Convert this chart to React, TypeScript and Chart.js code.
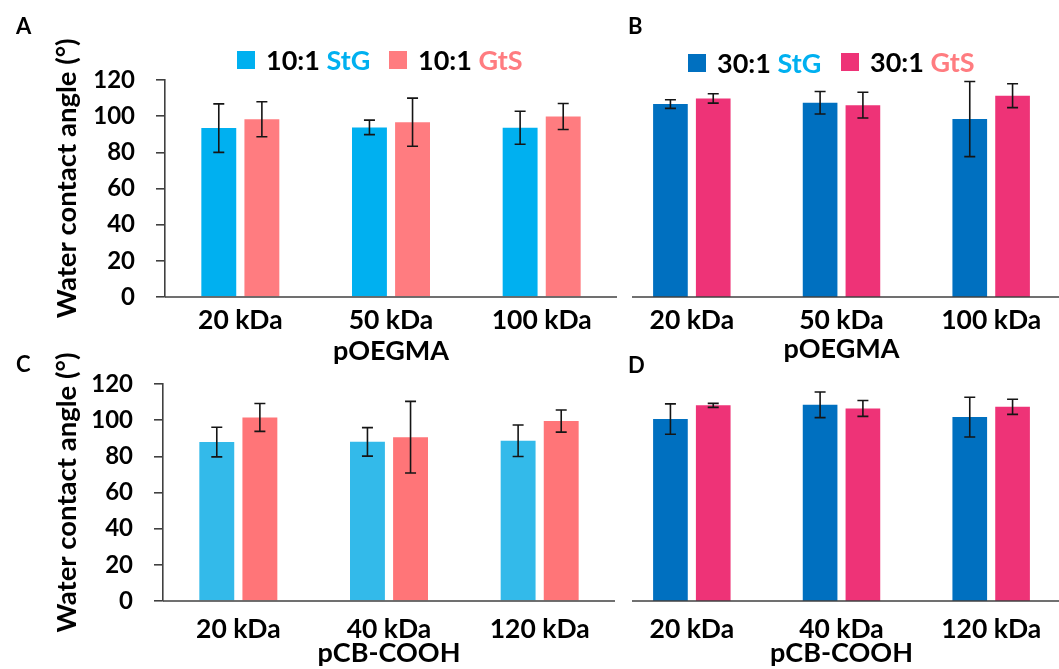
import React, { useEffect, useRef } from 'react';
import { Chart, registerables } from 'chart.js';

Chart.register(...registerables);
Chart.defaults.font.family = 'Lato';

// ---------- data ----------
const TOP_CATEGORIES = ['20 kDa', '50 kDa', '100 kDa'];
const BOTTOM_CATEGORIES = ['20 kDa', '40 kDa', '120 kDa'];
const TOP_TITLE = 'pOEGMA';
const BOTTOM_TITLE = 'pCB-COOH';
const Y_MIN = 0;
const Y_MAX = 120;
const Y_STEP = 20;

const A_STG = [93.4, 93.8, 93.6];
const A_STG_ERR = [13.4, 4.0, 9.1];
const A_GTS = [98.3, 96.7, 99.8];
const A_GTS_ERR = [9.7, 13.3, 7.2];

const B_STG = [106.7, 107.4, 98.4];
const B_STG_ERR = [2.4, 6.2, 20.8];
const B_GTS = [109.8, 106.1, 111.3];
const B_GTS_ERR = [2.6, 7.1, 6.6];

const C_STG = [87.9, 88.0, 88.6];
const C_STG_ERR = [8.2, 7.9, 8.7];
const C_GTS = [101.5, 90.6, 99.5];
const C_GTS_ERR = [7.7, 19.8, 6.1];

const D_STG = [100.6, 108.5, 101.7];
const D_STG_ERR = [8.4, 7.1, 11.0];
const D_GTS = [108.2, 106.5, 107.4];
const D_GTS_ERR = [1.1, 4.4, 4.2];

const LIGHT_BLUE = '#00B0F0';
const SALMON = '#FF7C80';
const C_BLUE = '#33BAEA';
const C_SALMON = '#FF7578';
const DARK_BLUE = '#0070C0';
const PINK = '#EE3377';
const AXIS_COLOR = '#404040';

// ---------- plugins ----------
const errorBarPlugin = {
  id: 'errorBars',
  afterDatasetsDraw(chart: any, _args: any, opts: any) {
    const ctx = chart.ctx;
    const y = chart.scales.y;
    const errs = opts.errors || [];
    chart.data.datasets.forEach((ds: any, di: number) => {
      const meta = chart.getDatasetMeta(di);
      meta.data.forEach((bar: any, i: number) => {
        const v = ds.data[i];
        const e = errs[di] ? errs[di][i] : 0;
        const yt = y.getPixelForValue(v + e);
        const yb = y.getPixelForValue(v - e);
        const x = bar.x;
        const cap = 5.5;
        ctx.save();
        ctx.strokeStyle = '#151515';
        ctx.lineWidth = 1.6;
        ctx.beginPath();
        ctx.moveTo(x, yt);
        ctx.lineTo(x, yb);
        ctx.moveTo(x - cap, yt);
        ctx.lineTo(x + cap, yt);
        ctx.moveTo(x - cap, yb);
        ctx.lineTo(x + cap, yb);
        ctx.stroke();
        ctx.restore();
      });
    });
  },
};

const axisLinePlugin = {
  id: 'axisLine',
  afterDatasetsDraw(chart: any, _args: any, opts: any) {
    const { ctx, chartArea } = chart;
    ctx.save();
    ctx.strokeStyle = AXIS_COLOR;
    ctx.lineWidth = 1.6;
    ctx.beginPath();
    ctx.moveTo(chartArea.left + (opts.inset || 0), chartArea.bottom);
    ctx.lineTo(chartArea.right, chartArea.bottom);
    ctx.stroke();
    ctx.restore();
  },
};

type PanelSpec = {
  left: number;
  top: number;
  width: number;
  height: number;
  padTop: number;
  showY: boolean;
  yWidth: number;
  yTitle: string;
  xHeight: number;
  xTickPad: number;
  xTitlePad: number;
  inset: number;
  categories: string[];
  xTitle: string;
  stg: number[];
  stgErr: number[];
  gts: number[];
  gtsErr: number[];
  stgColor: string;
  gtsColor: string;
  stgLabel: string;
  gtsLabel: string;
};

const PANELS: PanelSpec[] = [
  {
    left: 0, top: 0, width: 617, height: 370, padTop: 80, showY: true, yWidth: 165,
    yTitle: '\u2002 Water contact angle (°)', xHeight: 73, xTickPad: 8, xTitlePad: 3, inset: 0,
    categories: TOP_CATEGORIES, xTitle: TOP_TITLE,
    stg: A_STG, stgErr: A_STG_ERR, gts: A_GTS, gtsErr: A_GTS_ERR,
    stgColor: LIGHT_BLUE, gtsColor: SALMON, stgLabel: '10:1 StG', gtsLabel: '10:1 GtS',
  },
  {
    left: 617, top: 0, width: 449, height: 370, padTop: 80, showY: false, yWidth: 0,
    yTitle: '', xHeight: 73, xTickPad: 8, xTitlePad: 5, inset: 15,
    categories: TOP_CATEGORIES, xTitle: TOP_TITLE,
    stg: B_STG, stgErr: B_STG_ERR, gts: B_GTS, gtsErr: B_GTS_ERR,
    stgColor: DARK_BLUE, gtsColor: PINK, stgLabel: '30:1 StG', gtsLabel: '30:1 GtS',
  },
  {
    left: 0, top: 330, width: 615, height: 339, padTop: 54, showY: true, yWidth: 163,
    yTitle: 'Water contact angle (°)', xHeight: 68, xTickPad: 13, xTitlePad: 0, inset: 0,
    categories: BOTTOM_CATEGORIES, xTitle: BOTTOM_TITLE,
    stg: C_STG, stgErr: C_STG_ERR, gts: C_GTS, gtsErr: C_GTS_ERR,
    stgColor: C_BLUE, gtsColor: C_SALMON, stgLabel: '10:1 StG', gtsLabel: '10:1 GtS',
  },
  {
    left: 617, top: 330, width: 449, height: 339, padTop: 54, showY: false, yWidth: 0,
    yTitle: '', xHeight: 68, xTickPad: 13, xTitlePad: 0, inset: 15,
    categories: BOTTOM_CATEGORIES, xTitle: BOTTOM_TITLE,
    stg: D_STG, stgErr: D_STG_ERR, gts: D_GTS, gtsErr: D_GTS_ERR,
    stgColor: DARK_BLUE, gtsColor: PINK, stgLabel: '30:1 StG', gtsLabel: '30:1 GtS',
  },
];

function BarPanel({ p }: { p: PanelSpec }) {
  const ref = useRef<HTMLCanvasElement>(null);
  useEffect(() => {
    const chart = new Chart(ref.current as HTMLCanvasElement, {
      type: 'bar',
      data: {
        labels: p.categories,
        datasets: [
          { label: p.stgLabel, data: p.stg, backgroundColor: p.stgColor, categoryPercentage: 0.572, barPercentage: 0.81 },
          { label: p.gtsLabel, data: p.gts, backgroundColor: p.gtsColor, categoryPercentage: 0.572, barPercentage: 0.81 },
        ],
      },
      options: {
        animation: false,
        responsive: false,
        maintainAspectRatio: false,
        layout: { padding: { top: p.padTop, left: 0, right: 0, bottom: 0 } },
        plugins: {
          legend: { display: false },
          tooltip: { enabled: false },
          errorBars: { errors: [p.stgErr, p.gtsErr] },
          axisLine: { inset: p.inset },
        } as any,
        scales: {
          x: {
            grid: { display: false, drawTicks: false },
            border: { display: false },
            ticks: {
              color: '#000',
              font: { size: 26.5, weight: 'bold' },
              padding: p.xTickPad,
              maxRotation: 0,
              autoSkip: false,
            },
            title: {
              display: true,
              text: p.xTitle,
              color: '#000',
              font: { size: 27, weight: 'bold' },
              padding: { top: 0, bottom: p.xTitlePad },
            },
            afterFit: (s: any) => { s.height = p.xHeight; },
          },
          y: {
            display: p.showY,
            min: Y_MIN,
            max: Y_MAX,
            ticks: { stepSize: Y_STEP, color: '#000', font: { size: 24, weight: 'bold' }, padding: 21 },
            grid: { drawOnChartArea: false, drawTicks: true, tickLength: 9, color: AXIS_COLOR, lineWidth: 1.6 },
            border: { display: true, color: AXIS_COLOR, width: 1.6 },
            title: {
              display: p.showY,
              text: p.yTitle,
              color: '#000',
              font: { size: 27.5, weight: 'bold' },
              padding: { top: 50.5, bottom: 0 },
            },
            afterFit: (s: any) => { if (p.showY) s.width = p.yWidth; },
          },
        } as any,
      },
      plugins: [axisLinePlugin, errorBarPlugin],
    });
    return () => chart.destroy();
  }, []);
  return (
    <canvas
      ref={ref}
      width={p.width}
      height={p.height}
      style={{ position: 'absolute', left: p.left, top: p.top, width: p.width, height: p.height }}
    />
  );
}

const textStyle: React.CSSProperties = {
  position: 'absolute',
  fontFamily: 'Lato',
  fontWeight: 700,
  lineHeight: 1,
  whiteSpace: 'nowrap',
  color: '#000',
};

function LegendItem({ x, y, box, ratio, name, nameColor }: { x: number; y: number; box: string; ratio: string; name: string; nameColor: string }) {
  return (
    <>
      <div style={{ position: 'absolute', left: x, top: y + 3, width: 18, height: 18, background: box }} />
      <div style={{ ...textStyle, left: x + 29, top: y - 2, fontSize: 27 }}>
        {ratio} <span style={{ color: nameColor }}>{name}</span>
      </div>
    </>
  );
}

export default function App() {
  return (
    <div style={{ position: 'absolute', left: 0, top: 0, width: 1059, height: 669, overflow: 'hidden', background: '#fff' }}>
      {PANELS.map((p, i) => (
        <BarPanel key={i} p={p} />
      ))}
      <div style={{ ...textStyle, left: 16, top: 15, fontSize: 22 }}>A</div>
      <div style={{ ...textStyle, left: 628, top: 15, fontSize: 22 }}>B</div>
      <div style={{ ...textStyle, left: 16, top: 353, fontSize: 22 }}>C</div>
      <div style={{ ...textStyle, left: 628, top: 354, fontSize: 22 }}>D</div>

      <LegendItem x={237} y={48} box={LIGHT_BLUE} ratio="10:1" name="StG" nameColor={LIGHT_BLUE} />
      <LegendItem x={389} y={48} box={SALMON} ratio="10:1" name="GtS" nameColor={SALMON} />
      <LegendItem x={688} y={51} box={DARK_BLUE} ratio="30:1" name="StG" nameColor={LIGHT_BLUE} />
      <LegendItem x={841} y={50} box={PINK} ratio="30:1" name="GtS" nameColor={SALMON} />
    </div>
  );
}
